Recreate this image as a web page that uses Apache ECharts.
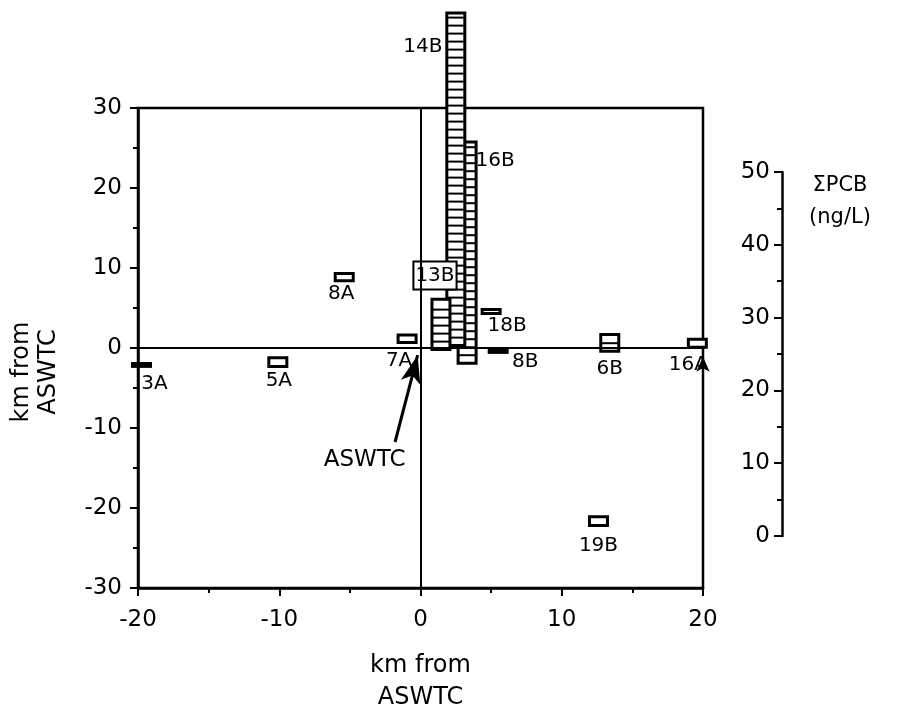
<!DOCTYPE html>
<html>
<head>
<meta charset="utf-8">
<script src="https://cdn.jsdelivr.net/npm/echarts@6/dist/echarts.min.js"></script>
<style>
  html, body { margin: 0; padding: 0; background: #fff; }
  #chart { width: 902px; height: 708px; }
</style>
</head>
<body>
<div id="chart"></div>
<script>
// sampling sites: km east / north of ASWTC, and summed PCB (ng/L)
// drawn in this order so the tall bars overlap like the original
const SITES  = ['3A', '5A', '8A', '7A', '16B', '14B', '13B', '18B', '8B', '6B', '16A', '19B'];
const SITE_X = [-19.75, -10.1, -5.4, -0.95, 3.3, 2.5, 1.45, 5.0, 5.5, 13.4, 19.6, 12.6];
const SITE_Y = [-2.3, -2.3, 8.4, 0.7, -1.9, 0.3, -0.2, 4.3, -0.55, -0.4, 0.1, -22.2];
const PCB    = [0.4, 1.2, 1.0, 1.0, 30.4, 45.7, 6.9, 0.55, 0.3, 2.3, 1.1, 1.2];

const KM_TICKS = { x: [-20, 20, 10], y: [-30, 30, 10] };
const PCB_AXIS = [0, 50, 10];

// label offsets (px) from the base centre of each bar
const LABEL_OFFSET = {
  '3A': [13, 17], '5A': [1, 14], '8A': [-3, 13], '7A': [-8, 18],
  '13B': [-6, -74], '14B': [-33, -299], '16B': [28, -202], '18B': [16, 12],
  '8B': [27, 9], '6B': [0, 18], '16A': [-9, 18], '19B': [0, 20],
};

const FONT = '"DejaVu Sans", sans-serif';
const PCB_GRID = { left: 782, top: 172, height: 364 };
const PX_PER_NG = PCB_GRID.height / (PCB_AXIS[1] - PCB_AXIS[0]);
const BAR_W = 18;
const HATCH = 8;

const chart = echarts.init(document.getElementById('chart'));

function renderBar(params, api) {
  const name = SITES[params.dataIndex];
  const base = api.coord([api.value(0), api.value(1)]);
  const h = api.value(2) * PX_PER_NG;
  const x0 = base[0] - BAR_W / 2;
  const children = [{
    type: 'rect',
    shape: { x: x0, y: base[1] - h, width: BAR_W, height: h },
    style: { fill: '#fff', stroke: '#000', lineWidth: 3 },
  }];
  for (let d = HATCH; d < h - 4; d += HATCH) {
    children.push({
      type: 'line',
      shape: { x1: x0, y1: base[1] - d, x2: x0 + BAR_W, y2: base[1] - d },
      style: { stroke: '#000', lineWidth: 2 },
    });
  }
  const off = LABEL_OFFSET[name] || [0, 16];
  const boxed = name === '13B';
  children.push({
    type: 'text',
    x: base[0] + off[0],
    y: base[1] + off[1],
    z2: 10,
    style: {
      text: name, font: '20px ' + FONT, fill: '#000',
      align: 'center', verticalAlign: 'middle',
      backgroundColor: boxed ? '#fff' : null,
      borderColor: boxed ? '#000' : null,
      borderWidth: boxed ? 2 : 0,
      padding: boxed ? [3, 1, 3, 1] : 0,
    },
  });
  return { type: 'group', children };
}

const axisLine = { show: true, onZero: false, lineStyle: { color: '#000', width: 2.5 } };
const axisTick = { show: true, inside: false, length: 8, lineStyle: { color: '#000', width: 2 } };
const minorTick = { show: true, splitNumber: 2, length: 5, lineStyle: { color: '#000', width: 2 } };
const tickFont = { color: '#000', fontSize: 23, fontFamily: FONT };

chart.setOption({
  backgroundColor: '#fff',
  animation: false,
  grid: [
    { left: 138, top: 108, width: 565, height: 480, outerBoundsMode: 'none',
      show: true, borderColor: '#000', borderWidth: 2.5 },
    { left: PCB_GRID.left, top: PCB_GRID.top, width: 1, height: PCB_GRID.height, outerBoundsMode: 'none' },
  ],
  xAxis: [{
    type: 'value', gridIndex: 0,
    min: KM_TICKS.x[0], max: KM_TICKS.x[1], interval: KM_TICKS.x[2],
    axisLine, axisTick, minorTick,
    splitLine: { show: false },
    axisLabel: { ...tickFont, margin: 21 },
    name: 'km from\nASWTC', nameLocation: 'middle', nameGap: 62,
    nameTextStyle: { color: '#000', fontSize: 24, fontFamily: FONT, lineHeight: 32 },
  }, {
    type: 'value', gridIndex: 1, min: 0, max: 1, show: false,
  }],
  yAxis: [{
    type: 'value', gridIndex: 0,
    min: KM_TICKS.y[0], max: KM_TICKS.y[1], interval: KM_TICKS.y[2],
    axisLine, axisTick, minorTick,
    splitLine: { show: false },
    axisLabel: { ...tickFont, margin: 16 },
  }, {
    type: 'value', gridIndex: 1, position: 'left',
    min: PCB_AXIS[0], max: PCB_AXIS[1], interval: PCB_AXIS[2],
    axisLine, axisTick, minorTick,
    splitLine: { show: false },
    axisLabel: { ...tickFont, margin: 12 },
  }],
  graphic: [{
    type: 'text', x: 35, y: 372, rotation: Math.PI / 2,
    style: {
      text: 'km from\nASWTC', font: '24px ' + FONT, fill: '#000',
      align: 'center', verticalAlign: 'middle', lineHeight: 27,
    },
  }, {
    type: 'text', x: 840, y: 202,
    style: {
      text: 'ΣPCB\n(ng/L)', font: '21px ' + FONT, fill: '#000',
      align: 'center', verticalAlign: 'middle', lineHeight: 32,
    },
  }],
  series: [{
    name: 'axes0',
    type: 'scatter',
    xAxisIndex: 0, yAxisIndex: 0,
    z: 1,
    symbolSize: 0,
    itemStyle: { opacity: 1 },
    data: [[-3.95, -14]],
    label: {
      show: true, formatter: 'ASWTC', position: 'inside',
      color: '#000', fontSize: 23, fontFamily: FONT,
    },
    markLine: {
      silent: true,
      animation: false,
      symbol: ['none', 'none'],
      label: { show: false },
      lineStyle: { color: '#000', width: 2, type: 'solid' },
      data: [
        { xAxis: 0 },
        { yAxis: 0 },
        [{ coord: [-1.8, -11.75] },
         { coord: [-0.2, -0.9], symbol: 'arrow', symbolSize: [15, 28], lineStyle: { width: 3 } }],
        [{ coord: [20, -3.4] },
         { coord: [20, -1.1], symbol: 'arrow', symbolSize: [10, 15] }],
      ],
    },
  }, {
    name: 'pcb',
    type: 'custom',
    xAxisIndex: 0, yAxisIndex: 0,
    z: 3,
    clip: false,
    renderItem: renderBar,
    data: SITES.map((s, i) => [SITE_X[i], SITE_Y[i], PCB[i]]),
  }, {
    name: 'pcbScale',
    type: 'scatter',
    xAxisIndex: 1, yAxisIndex: 1,
    data: [],
  }],
});
</script>
</body>
</html>
